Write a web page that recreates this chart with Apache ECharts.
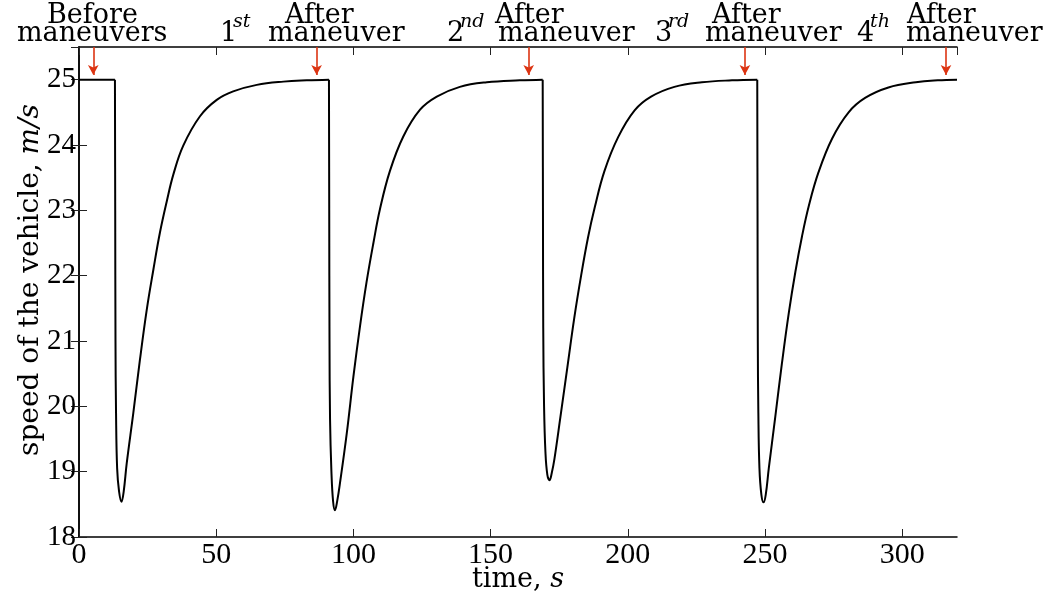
<!DOCTYPE html>
<html>
<head>
<meta charset="utf-8">
<script src="https://cdn.jsdelivr.net/npm/echarts@6/dist/echarts.min.js"></script>
<style>
  html, body { margin: 0; padding: 0; background: #ffffff; }
  #chart { width: 1060px; height: 599px; }
</style>
</head>
<body>
<div id="chart"></div>
<script>
// Vehicle speed (m/s) over time (s): cruise at 25 m/s, four braking manoeuvres,
// each followed by recovery back to cruise speed.
const timeTicks = [0, 50, 100, 150, 200, 250, 300];
const speedTicks = [18, 19, 20, 21, 22, 23, 24, 25];

const cruise = [[0, 25], [13.1, 25]];
const maneuver1 = [
  [13.1, 25], [13.2, 23.0], [13.3, 21.0], [13.5, 19.9], [13.9, 19.05], [14.6, 18.7], [15.5, 18.54],
  [16.3, 18.7], [17.4, 19.13], [19.8, 19.9], [22.2, 20.71], [24.7, 21.48], [27.1, 22.09],
  [29.5, 22.66], [32, 23.14], [34.4, 23.55], [38, 23.99], [44.1, 24.44], [50.2, 24.69],
  [56.2, 24.82], [64.8, 24.92], [74.5, 24.97], [83, 24.99], [91.1, 25]
];
const maneuver2 = [
  [91.1, 25], [91.2, 23.0], [91.3, 21.0], [91.5, 19.8], [92, 19.0], [92.6, 18.55], [93.3, 18.41],
  [94.1, 18.55], [95.1, 18.82], [97.6, 19.59], [100, 20.45], [102.4, 21.22], [104.8, 21.9],
  [107.3, 22.5], [109.7, 23.02], [113.3, 23.6], [118.2, 24.13], [124.3, 24.54],
  [130.4, 24.74], [138.8, 24.89], [148.6, 24.96], [160.7, 24.99], [169, 25]
];
const maneuver3 = [
  [169, 25], [169.1, 23.0], [169.2, 21.2], [169.5, 20.0], [170, 19.3], [170.7, 18.95], [171.5, 18.87],
  [172.3, 18.98], [173.3, 19.2], [175.5, 19.85], [178, 20.6], [180.5, 21.35], [183, 22.0],
  [185.5, 22.58], [188, 23.05], [191.5, 23.6], [196.5, 24.12], [202.5, 24.53],
  [208.5, 24.74], [217, 24.89], [227, 24.96], [238, 24.99], [247.2, 25]
];
const maneuver4 = [
  [247.2, 25], [247.3, 23.0], [247.4, 21.0], [247.6, 19.9], [248, 19.05], [248.7, 18.65], [249.5, 18.53],
  [250.3, 18.65], [251.4, 19.05], [253.8, 19.85], [256.2, 20.66], [258.7, 21.43],
  [261.1, 22.06], [263.5, 22.6], [266, 23.07], [269.5, 23.58], [274.5, 24.1],
  [280.5, 24.5], [286.5, 24.72], [295, 24.88], [305, 24.96], [313, 24.99], [320, 25]
];

// Times at which the red arrows mark the speed before / after each manoeuvre
const markerTimes = [5.2, 86.6, 163.9, 242.7, 316];
const markerOrdinals = ['', '1', '2', '3', '4'];
const markerSuffixes = ['', 'st', 'nd', 'rd', 'th'];

const SERIF = '"DejaVu Serif", serif';
const NUM = '"Liberation Serif", "Times New Roman", serif';
const RED = '#dc3412';

const chart = echarts.init(document.getElementById('chart'), null, { renderer: 'canvas' });

const axisLine = { show: true, lineStyle: { color: '#000', width: 1.5 } };
const axisTick = { show: true, inside: true, length: 8, lineStyle: { color: '#222', width: 1 } };

function speedLine(points) {
  return {
    type: 'line', data: points, showSymbol: false, symbol: 'none',
    smooth: 0.4, lineStyle: { color: '#000', width: 2 }, z: 3
  };
}

chart.setOption({
  animation: false,
  backgroundColor: '#ffffff',
  grid: { left: 79, right: 103, top: 47, bottom: 62, containLabel: false, outerBoundsMode: 'none' },
  xAxis: [{
    type: 'value', min: 0, max: 320, interval: 50, position: 'bottom',
    name: '{a|time, }{b|s}', nameLocation: 'middle', nameGap: 29, nameMoveOverlap: false,
    nameTextStyle: {
      rich: {
        a: { fontFamily: SERIF, fontSize: 27, color: '#000' },
        b: { fontFamily: SERIF, fontSize: 27, fontStyle: 'italic', color: '#000' }
      }
    },
    axisLine, axisTick, splitLine: { show: false },
    axisLabel: {
      margin: 3, fontFamily: NUM, fontSize: 30, color: '#000', showMaxLabel: false,
      formatter: v => (timeTicks.indexOf(v) >= 0 ? String(v) : '')
    }
  }, {
    type: 'value', min: 0, max: 320, interval: 50, position: 'top',
    axisLine, axisTick, axisLabel: { show: false }, splitLine: { show: false }
  }],
  yAxis: [{
    type: 'value', min: 18, max: 25.5, interval: 1, position: 'left',
    name: '{a|speed of the vehicle, }{b|m/s}', nameLocation: 'middle', nameGap: 34, nameRotate: 90,
    nameMoveOverlap: false,
    nameTextStyle: {
      padding: [0, 0, 0, 24],
      rich: {
        a: { fontFamily: SERIF, fontSize: 28, color: '#000' },
        b: { fontFamily: SERIF, fontSize: 28, fontStyle: 'italic', color: '#000' }
      }
    },
    axisLine, axisTick, splitLine: { show: false },
    axisLabel: {
      margin: 3, fontFamily: NUM, fontSize: 29, color: '#000', showMaxLabel: false,
      formatter: v => (speedTicks.indexOf(v) >= 0 ? String(v) : '')
    }
  }, {
    type: 'value', min: 18, max: 25.5, interval: 1, position: 'right',
    axisLine, axisTick, axisLabel: { show: false }, splitLine: { show: false }
  }],
  series: [
    Object.assign(speedLine(cruise), {
      smooth: false,
      markLine: {
        silent: true,
        symbol: ['none', 'arrow'],
        symbolSize: [8, 10],
        label: { show: false },
        lineStyle: { color: RED, width: 1.6, type: 'solid' },
        data: markerTimes.map(t => [{ coord: [t, 25.5] }, { coord: [t, 25.07] }])
      }
    }),
    speedLine(maneuver1),
    speedLine(maneuver2),
    speedLine(maneuver3),
    speedLine(maneuver4)
  ]
});

// Text above each arrow: ordinal with superscript suffix, "After" and "maneuver"
// (the first arrow reads "Before maneuvers").
const labelLayout = [
  { after: 47, man: 17, ord: 0, sup: 0 },
  { after: 285, man: 268, ord: 220, sup: 233 },
  { after: 495, man: 498, ord: 447, sup: 460 },
  { after: 712, man: 705, ord: 655, sup: 668 },
  { after: 907, man: 906, ord: 857, sup: 870 }
];
const line1Top = 2, line2Top = 20, supTop = 13;
const graphics = [];
labelLayout.forEach((p, i) => {
  const first = i === 0;
  graphics.push({
    type: 'text', left: p.after, top: line1Top, silent: true,
    style: { text: first ? 'Before' : 'After', font: '27px ' + SERIF, fill: '#000' }
  });
  graphics.push({
    type: 'text', left: p.man, top: line2Top, silent: true,
    style: { text: first ? 'maneuvers' : 'maneuver', font: '27px ' + SERIF, fill: '#000' }
  });
  if (!first) {
    graphics.push({
      type: 'text', left: p.ord, top: line2Top, silent: true,
      style: { text: markerOrdinals[i], font: '27px ' + SERIF, fill: '#000' }
    });
    graphics.push({
      type: 'text', left: p.sup, top: supTop, silent: true,
      style: { text: markerSuffixes[i], font: 'italic 19px ' + SERIF, fill: '#000' }
    });
  }
});
chart.setOption({ graphic: graphics });
</script>
</body>
</html>
